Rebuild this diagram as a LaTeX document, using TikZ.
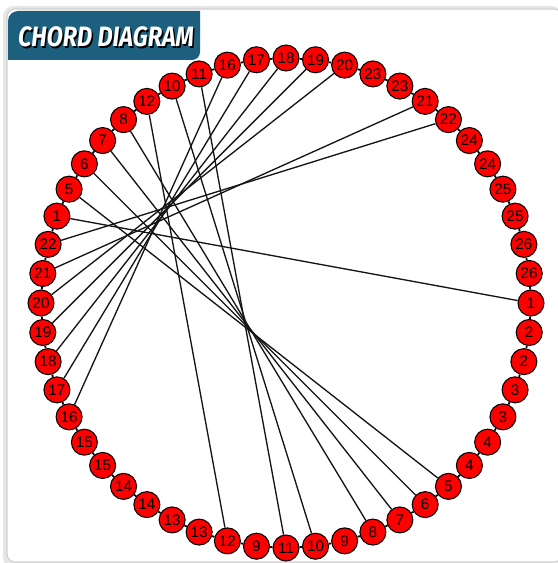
\documentclass[tikz,border=0pt]{standalone}
\usepackage{fontspec}
\usepackage{graphicx}
\setmainfont{Liberation Sans}
\newfontfamily\titlefont{Fira Sans}
\usetikzlibrary{calc,backgrounds}
\definecolor{chordred}{HTML}{FF0000}
\definecolor{chordink}{HTML}{151515}
\definecolor{tabblue}{HTML}{1C5F7E}
\definecolor{frameline}{HTML}{D0D0D0}
\definecolor{frameshade}{HTML}{E6E6E6}
\tikzset{
  chordnode/.style={circle, draw=black, fill=chordred, line width=.8pt,
    minimum size=19.5pt, inner sep=0pt, text=black,
    font=\fontsize{11.5}{12}\selectfont},
  chordline/.style={draw=chordink, line width=1pt},
  ringlink/.style={draw=black, line width=1.3pt},
  titletext/.style={font=\titlefont\bfseries\itshape\fontsize{21}{21}\selectfont,
    inner sep=0pt},
  framebox/.style={draw=frameline, fill=white, line width=.8pt, rounded corners=6pt}
}

\begin{document}
\begin{tikzpicture}[x=.75pt,y=-.75pt]
  \useasboundingbox (0,0) rectangle (557,563);
  \coordinate (ctr) at (286,303);

  \begin{scope}[on background layer]
    \fill[frameshade, rounded corners=8pt] (3,6) rectangle (562,568);
    \draw[framebox] (7,9) rectangle (562,562);
    \fill[tabblue] (8,60) [rounded corners=7.5pt] -- (8,11) [sharp corners] -- (200,11)
      [rounded corners=6pt] -- (200,60) [sharp corners] -- cycle;
  \end{scope}

  \node[titletext, text=black] (titleshade) at (107.5,38.5) {\scalebox{.84}[1]{CHORD DIAGRAM}};
  \node[titletext, text=white] (title) at (106,37) {\scalebox{.84}[1]{CHORD DIAGRAM}};

  % 52 ends, two per value, clockwise from the top
  \foreach \lbl [count=\i] in {18,19,20,23,23,21,22,24,24,25,25,26,26,1,2,2,3,3,4,4,
      5,6,7,8,9,10,11,9,12,13,13,14,14,15,15,16,17,18,19,20,21,22,1,5,6,7,8,12,10,11,16,17}
    \node[chordnode] (n\i) at ($(ctr)+({-90+(\i-1)*(360/52)}:245)$) {\lbl};

  \begin{scope}[on background layer]
    \foreach \i [evaluate=\i as \j using {int(mod(\i,52)+1)}] in {1,...,52}
      \draw[ringlink] (n\i) -- (n\j);
    \foreach \a/\b in {14/43,21/44,22/45,23/46,24/47,26/49,27/50,29/48,
        36/51,37/52,38/1,39/2,40/3,41/6,42/7}
      \draw[chordline] (n\a) -- (n\b);
  \end{scope}
\end{tikzpicture}
\end{document}
